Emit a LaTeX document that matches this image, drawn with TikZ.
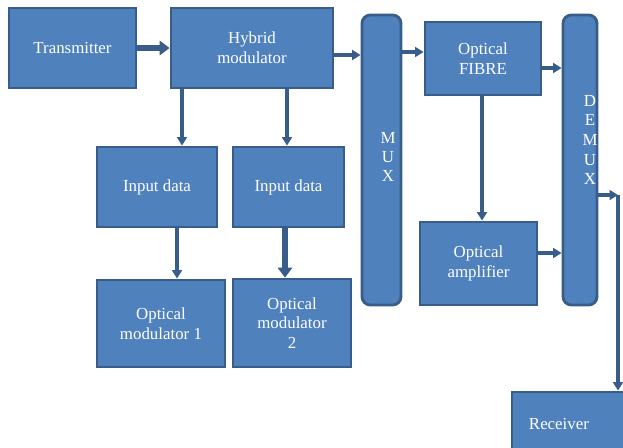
\documentclass[tikz,border=0pt]{standalone}
\usepackage{fontspec}
\setmainfont{Liberation Serif}
\usetikzlibrary{arrows.meta, positioning}
\definecolor{boxfill}{HTML}{4F81BD}
\definecolor{boxline}{HTML}{385D8A}

\begin{document}
\begin{tikzpicture}[x=0.025cm, y=-0.025cm,
  box/.style={draw=boxline, fill=boxfill, line width=2pt, text=white,
              align=center, inner sep=2pt,
              font=\fontsize{12}{14}\selectfont},
  bar/.style={box, rounded corners=6pt},
  flow/.style={-{Triangle[length=6pt, width=7pt]}, draw=boxline, line width=2.2pt},
  bigflow/.style={flow, line width=4.5pt, -{Triangle[length=7pt, width=10pt]}},
]
\useasboundingbox (0,0) rectangle (623,447);

% transmitter side
\node[box, minimum width=3.175cm, minimum height=2cm] (tx) at (72.5,48) {Transmitter};
\node[box, minimum width=4.05cm, minimum height=2cm] (hybrid) at (252,48) {Hybrid\\modulator};
\node[box, minimum width=3cm, minimum height=2cm] (in1) at (157,187) {Input data};
\node[box, minimum width=2.775cm, minimum height=2cm] (in2) at (288.5,187) {Input data};
\node[box, minimum width=3.2cm, minimum height=2.175cm] (mod1) at (161,323.5) {Optical\\modulator 1};
\node[box, minimum width=2.95cm, minimum height=2.2cm] (mod2) at (292,323) {Optical\\modulator\\2};

% link
\node[bar, minimum width=0.975cm, minimum height=7.25cm] (mux) at (381.5,160) {};
\node[box, font=\fontsize{12}{13.5}\selectfont] at (388,157) [draw=none, fill=none] {M\\U\\X};
\node[box, minimum width=2.9cm, minimum height=1.825cm] (fibre) at (483,58.5) {Optical\\FIBRE};
\node[box, minimum width=2.925cm, minimum height=2.075cm] (amp) at (478.5,263.5) {Optical\\amplifier};
\node[bar, minimum width=0.85cm, minimum height=7.25cm] (demux) at (580,160) {};
\node[box, font=\fontsize{12}{14}\selectfont] at (590,140) [draw=none, fill=none] {D\\E\\M\\U\\X};

% receiver (runs off the page)
\node[box, minimum width=3.25cm, minimum height=1.6cm, text width=2.4cm, align=left] (rx) at (577,424) {Receiver};
\coordinate (bend) at (618,195);

% connectors
\draw[bigflow] (tx.east) -- (hybrid.west);
\draw[flow] (hybrid.east |- 0,55) -- (mux.west |- 0,55);
\draw[flow] (mux.east |- 0,52) -- (fibre.west |- 0,52);
\draw[flow] (fibre.east |- 0,68) -- (demux.west |- 0,68);
\draw[flow, line width=3pt] (fibre.south -| 482,0) -- (amp.north -| 482,0);
\draw[flow] (amp.east |- 0,253) -- (demux.west |- 0,253);
\draw[flow] (hybrid.south -| 182,0) -- (in1.north -| 182,0);
\draw[flow] (hybrid.south -| 287,0) -- (in2.north -| 287,0);
\draw[flow] (in1.south -| 177,0) -- (mod1.north -| 177,0);
\draw[bigflow] (in2.south -| 285,0) -- (mod2.north -| 285,0);
\draw[flow] (demux.east |- bend) -- (bend);
\draw[flow] (bend) -- (rx.north -| bend);
\end{tikzpicture}
\end{document}
